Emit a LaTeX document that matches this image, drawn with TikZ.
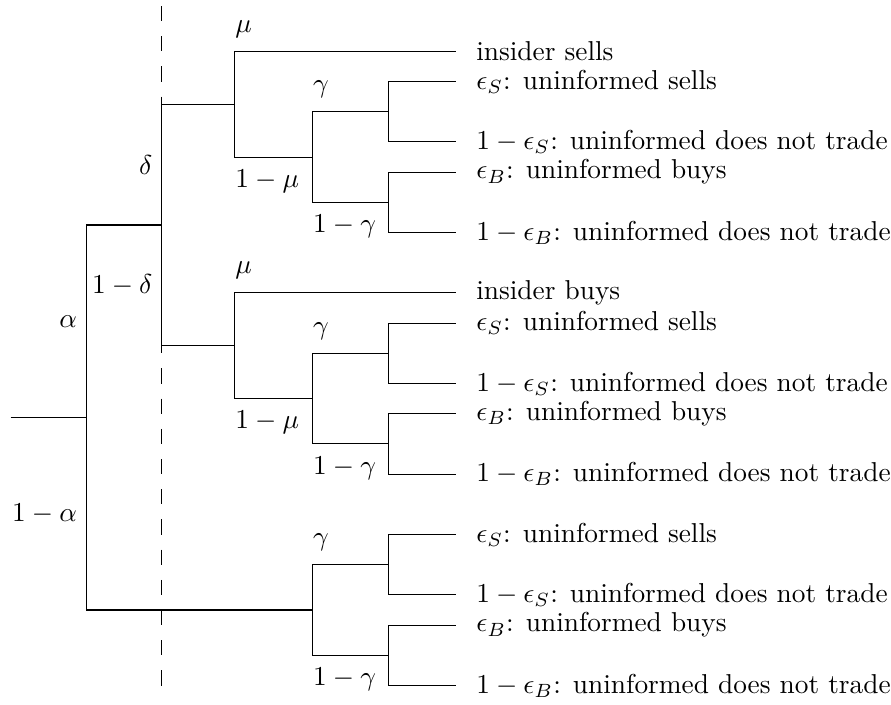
\RequirePackage{fix-cm}
\documentclass[tikz,border=0pt]{standalone}
\usepackage{tikz}

\begin{document}
\begin{tikzpicture}[thin,every node/.style={font=\fontsize{10.3}{12.4}\selectfont},leaf node/.style={anchor=west,inner xsep=7.4pt},up label/.style={anchor=south west,inner sep=0pt,yshift=5pt},down label/.style={anchor=north west,inner sep=0pt,yshift=-4.5pt},side label/.style={left}]

  \useasboundingbox (-0.142,0.68) rectangle (11.66,-8.645);

  % the dashed separator
  \draw[dash pattern=on 0.2cm off 0.2cm] (2,0.6) -- (2,-8.42);

  % split points
  \coordinate (r) at (0,-4.85);
  \coordinate (a) at (1,-4.85);
  \coordinate (d) at (2,-2.3);
  \coordinate (m1) at (2.97,-0.7);
  \coordinate (m2) at (2.97,-3.9);
  \coordinate (g1) at (4,-1.4);
  \coordinate (g2) at (4,-4.6);
  \coordinate (g3) at (4,-7.4);
  \coordinate (e1) at (5,-0.8);
  \coordinate (e2) at (5,-2.0);
  \coordinate (e3) at (5,-4.0);
  \coordinate (e4) at (5,-5.2);
  \coordinate (e5) at (5,-6.8);
  \coordinate (e6) at (5,-8.0);

  % outcomes
  \node[leaf node] (l1) at (5.9,0) {insider sells};
  \node[leaf node] (l2) at (5.9,-0.4) {$\epsilon_S$: uninformed sells};
  \node[leaf node] (l3) at (5.9,-1.2) {$1-\epsilon_S$: uninformed does not trade};
  \node[leaf node] (l4) at (5.9,-1.6) {$\epsilon_B$: uninformed buys};
  \node[leaf node] (l5) at (5.9,-2.4) {$1-\epsilon_B$: uninformed does not trade};
  \node[leaf node] (l6) at (5.9,-3.2) {insider buys};
  \node[leaf node] (l7) at (5.9,-3.6) {$\epsilon_S$: uninformed sells};
  \node[leaf node] (l8) at (5.9,-4.4) {$1-\epsilon_S$: uninformed does not trade};
  \node[leaf node] (l9) at (5.9,-4.8) {$\epsilon_B$: uninformed buys};
  \node[leaf node] (l10) at (5.9,-5.6) {$1-\epsilon_B$: uninformed does not trade};
  \node[leaf node] (l11) at (5.9,-6.4) {$\epsilon_S$: uninformed sells};
  \node[leaf node] (l12) at (5.9,-7.2) {$1-\epsilon_S$: uninformed does not trade};
  \node[leaf node] (l13) at (5.9,-7.6) {$\epsilon_B$: uninformed buys};
  \node[leaf node] (l14) at (5.9,-8.4) {$1-\epsilon_B$: uninformed does not trade};

  \draw (r) -- (a);
  \draw (a) |- node[pos=.25,side label] {$\alpha$} (d);
  \draw (a) |- node[pos=.25,side label] {$1-\alpha$} (g3);
  \draw (d) |- node[pos=.25,side label] {$\delta$} (m1);
  \draw (d) |- node[pos=.25,side label] {$1-\delta$} (m2);

  \draw (m1) |- node[pos=.5,up label] {$\mu$} (l1.west);
  \draw (m1) |- node[pos=.5,down label] {$1-\mu$} (g1);
  \draw (g1) |- node[pos=.5,up label] {$\gamma$} (e1);
  \draw (g1) |- node[pos=.5,down label] {$1-\gamma$} (e2);
  \draw (e1) |- (l2.west);
  \draw (e1) |- (l3.west);
  \draw (e2) |- (l4.west);
  \draw (e2) |- (l5.west);

  \draw (m2) |- node[pos=.5,up label] {$\mu$} (l6.west);
  \draw (m2) |- node[pos=.5,down label] {$1-\mu$} (g2);
  \draw (g2) |- node[pos=.5,up label] {$\gamma$} (e3);
  \draw (g2) |- node[pos=.5,down label] {$1-\gamma$} (e4);
  \draw (e3) |- (l7.west);
  \draw (e3) |- (l8.west);
  \draw (e4) |- (l9.west);
  \draw (e4) |- (l10.west);

  \draw (g3) |- node[pos=.5,up label] {$\gamma$} (e5);
  \draw (g3) |- node[pos=.5,down label] {$1-\gamma$} (e6);
  \draw (e5) |- (l11.west);
  \draw (e5) |- (l12.west);
  \draw (e6) |- (l13.west);
  \draw (e6) |- (l14.west);
\end{tikzpicture}
\end{document}
